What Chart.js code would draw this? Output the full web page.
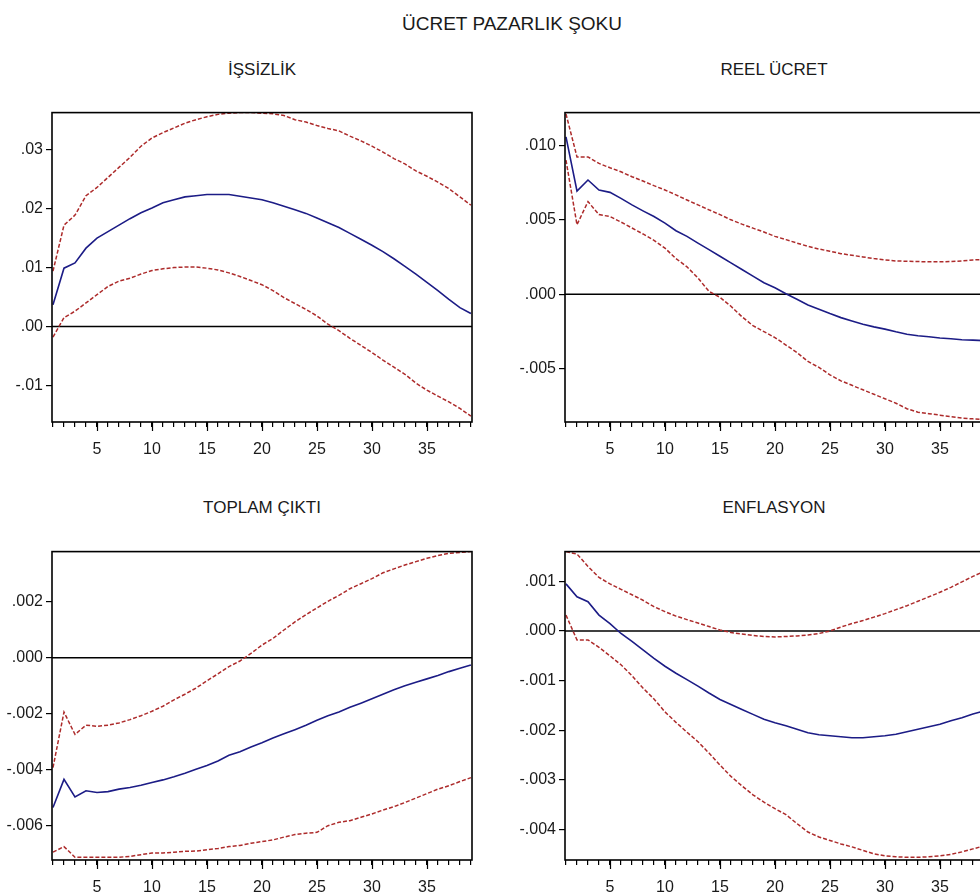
<!DOCTYPE html>
<html>
<head>
<meta charset="utf-8">
<script src="https://cdn.jsdelivr.net/npm/chart.js@4.4.1/dist/chart.umd.min.js"></script>
<style>
  html, body { margin:0; padding:0; background:#fff; overflow:hidden; width:980px; height:894px; }
  .ttl { position:absolute; text-align:center; font-family:"Liberation Sans", Arial, sans-serif; color:#1a1a1a; white-space:nowrap; line-height:20px; }
  .pane { position:absolute; }
</style>
</head>
<body>
<div class="ttl" style="left:362px; top:14px; width:300px; font-size:19px;">ÜCRET PAZARLIK ŞOKU</div>
<div class="ttl" style="left:112px; top:60px; width:300px; font-size:17px;">İŞSİZLİK</div>
<div class="ttl" style="left:624px; top:60px; width:300px; font-size:17px;">REEL ÜCRET</div>
<div class="ttl" style="left:112px; top:498px; width:300px; font-size:17px;">TOPLAM ÇIKTI</div>
<div class="ttl" style="left:624px; top:498px; width:300px; font-size:17px;">ENFLASYON</div>

<div class="pane" id="p1"><canvas id="c1"></canvas></div>
<div class="pane" id="p2"><canvas id="c2"></canvas></div>
<div class="pane" id="p3"><canvas id="c3"></canvas></div>
<div class="pane" id="p4"><canvas id="c4"></canvas></div>

<script>
// ---------- data ----------
const PERIODS = Array.from({length:39}, (_, i) => i + 1);
const X_LABELS = [5, 10, 15, 20, 25, 30, 35];

// İŞSİZLİK
const ISS_MEAN = [0.0037,0.0099,0.0108,0.0133,0.0150,0.0161,0.0172,0.0183,0.0193,0.0201,0.0210,0.0215,0.0220,0.0222,0.0224,0.0224,0.0224,0.0221,0.0218,0.0215,0.0210,0.0204,0.0198,0.0192,0.0184,0.0176,0.0168,0.0158,0.0148,0.0138,0.0127,0.0115,0.0102,0.0089,0.0075,0.0061,0.0046,0.0032,0.0022];
const ISS_UP   = [0.0094,0.0172,0.0189,0.0222,0.0236,0.0253,0.0270,0.0287,0.0306,0.0320,0.0329,0.0337,0.0345,0.0351,0.0356,0.0360,0.0362,0.0363,0.0363,0.0362,0.0361,0.0358,0.0351,0.0347,0.0341,0.0336,0.0332,0.0323,0.0315,0.0306,0.0296,0.0285,0.0276,0.0264,0.0255,0.0245,0.0234,0.0220,0.0206];
const ISS_LO   = [-0.0018,0.0015,0.0026,0.0040,0.0054,0.0068,0.0077,0.0082,0.0089,0.0095,0.0098,0.0100,0.0101,0.0101,0.0099,0.0096,0.0091,0.0085,0.0078,0.0071,0.0061,0.0049,0.0039,0.0029,0.0018,0.0004,-0.0007,-0.0020,-0.0032,-0.0044,-0.0057,-0.0069,-0.0081,-0.0096,-0.0108,-0.0118,-0.0128,-0.0139,-0.0152];
const ISS_TICKS  = [-0.01, 0, 0.01, 0.02, 0.03];
const ISS_LABELS = ['-.01', '.00', '.01', '.02', '.03'];

// REEL ÜCRET
const REEL_MEAN = [0.01056,0.00693,0.00767,0.0070,0.00684,0.00644,0.0060,0.0056,0.00522,0.00478,0.00427,0.00389,0.00344,0.0030,0.00256,0.00211,0.00167,0.00122,0.00078,0.00044,0.00004,-0.00033,-0.00071,-0.0010,-0.00129,-0.00156,-0.00178,-0.0020,-0.00218,-0.00233,-0.00251,-0.00267,-0.00278,-0.00284,-0.00293,-0.00298,-0.00304,-0.00307,-0.0031];
const REEL_UP   = [0.0121,0.00922,0.00922,0.00878,0.00849,0.00822,0.00789,0.0076,0.00729,0.0070,0.00667,0.00633,0.0060,0.00567,0.00535,0.0050,0.00471,0.00444,0.00418,0.00389,0.00367,0.00344,0.00322,0.00304,0.00289,0.00273,0.00262,0.00251,0.0024,0.00231,0.00224,0.00222,0.0022,0.00218,0.00218,0.0022,0.00224,0.00231,0.00233];
const REEL_LO   = [0.0090,0.00467,0.00622,0.00535,0.00522,0.00485,0.00445,0.00405,0.00362,0.0031,0.0024,0.00185,0.0011,0.0002,-0.0002,-0.0008,-0.0015,-0.0021,-0.0025,-0.0029,-0.0034,-0.0039,-0.0045,-0.0049,-0.0054,-0.0058,-0.0061,-0.0064,-0.0067,-0.0070,-0.0073,-0.00767,-0.0079,-0.0080,-0.0081,-0.0082,-0.0083,-0.00835,-0.0084];
const REEL_TICKS  = [-0.005, 0, 0.005, 0.010];
const REEL_LABELS = ['-.005', '.000', '.005', '.010'];

// TOPLAM ÇIKTI
const TOP_MEAN = [-0.00537,-0.00436,-0.00499,-0.00477,-0.00483,-0.0048,-0.00471,-0.00465,-0.00457,-0.00447,-0.00438,-0.00427,-0.00414,-0.0040,-0.00386,-0.0037,-0.0035,-0.00337,-0.0032,-0.00305,-0.00288,-0.00273,-0.00258,-0.00242,-0.00224,-0.00208,-0.00195,-0.00178,-0.00163,-0.00147,-0.00131,-0.00115,-0.00101,-0.00088,-0.00076,-0.00064,-0.0005,-0.00038,-0.00026];
const TOP_UP   = [-0.00394,-0.00195,-0.00275,-0.00242,-0.00246,-0.00242,-0.00234,-0.00222,-0.00208,-0.00192,-0.00174,-0.00151,-0.00131,-0.00109,-0.00083,-0.00058,-0.00032,-0.00012,0.00015,0.00045,0.00069,0.00099,0.00128,0.00154,0.00178,0.00202,0.00223,0.00247,0.00265,0.00283,0.00304,0.00318,0.00332,0.00344,0.00356,0.00366,0.00374,0.00377,0.0038];
const TOP_LO   = [-0.00697,-0.00677,-0.00715,-0.00715,-0.00715,-0.00715,-0.00715,-0.00712,-0.00706,-0.0070,-0.0070,-0.00697,-0.00694,-0.00693,-0.00688,-0.00684,-0.00677,-0.00673,-0.00665,-0.00659,-0.00653,-0.00643,-0.00634,-0.00629,-0.00626,-0.00602,-0.0059,-0.00584,-0.00572,-0.0056,-0.00546,-0.00534,-0.00519,-0.00503,-0.00487,-0.00471,-0.00459,-0.00444,-0.0043];
const TOP_TICKS  = [-0.006, -0.004, -0.002, 0, 0.002];
const TOP_LABELS = ['-.006', '-.004', '-.002', '.000', '.002'];

// ENFLASYON
const ENF_MEAN = [0.00095,0.00069,0.00059,0.00032,0.00015,-0.00005,-0.00021,-0.00038,-0.00055,-0.00071,-0.00085,-0.00098,-0.00111,-0.00125,-0.00138,-0.00148,-0.00158,-0.00168,-0.00178,-0.00185,-0.00191,-0.00198,-0.00205,-0.00209,-0.00211,-0.00213,-0.00215,-0.00215,-0.00213,-0.00211,-0.00208,-0.00203,-0.00198,-0.00193,-0.00188,-0.00181,-0.00175,-0.00167,-0.00161];
const ENF_UP   = [0.0016,0.00155,0.0013,0.00108,0.00095,0.00084,0.00073,0.00062,0.00049,0.00039,0.0003,0.00023,0.00016,0.00009,0.00002,-0.00003,-0.00006,-0.00009,-0.00011,-0.00012,-0.00011,-0.0001,-0.00008,-0.00005,0.0,0.00008,0.00015,0.00021,0.00028,0.00035,0.00043,0.00051,0.0006,0.00069,0.00078,0.00088,0.00099,0.0011,0.0012];
const ENF_LO   = [0.00032,-0.00018,-0.00018,-0.00033,-0.0005,-0.00068,-0.0009,-0.00115,-0.00137,-0.00163,-0.00184,-0.00204,-0.00223,-0.00246,-0.0027,-0.00293,-0.00312,-0.0033,-0.00345,-0.00358,-0.0037,-0.00388,-0.00405,-0.00415,-0.00422,-0.00429,-0.00435,-0.00442,-0.00449,-0.00453,-0.00455,-0.00456,-0.00456,-0.00455,-0.00453,-0.0045,-0.00445,-0.00439,-0.00433];
const ENF_TICKS  = [-0.004, -0.003, -0.002, -0.001, 0, 0.001];
const ENF_LABELS = ['-.004', '-.003', '-.002', '-.001', '.000', '.001'];

// ---------- drawing ----------
const FONT = '"Liberation Sans", Arial, sans-serif';
const BLUE = '#1c1c86';
const RED = '#ad2b2b';

const framePlugin = {
  id: 'frame',
  beforeDatasetsDraw(chart) {
    const {ctx, chartArea: a, scales: {y}} = chart;
    const zy = y.getPixelForValue(0);
    ctx.save();
    ctx.strokeStyle = '#000';
    ctx.lineWidth = 1.5;
    ctx.beginPath();
    ctx.moveTo(a.left, zy);
    ctx.lineTo(a.right, zy);
    ctx.stroke();
    ctx.restore();
  },
  afterDraw(chart) {
    const {ctx, chartArea: a, scales: {x}} = chart;
    ctx.save();
    ctx.strokeStyle = '#000';
    ctx.lineWidth = 1.6;
    ctx.strokeRect(a.left, a.top, a.right - a.left, a.bottom - a.top);
    ctx.lineWidth = 1.2;
    ctx.beginPath();
    X_LABELS.forEach(v => {
      const px = Math.round(x.getPixelForValue(v)) + 0.5;
      ctx.moveTo(px, a.bottom);
      ctx.lineTo(px, a.bottom + 9);
    });
    ctx.stroke();
    ctx.restore();
  }
};

function pts(arr) { return arr.map((v, i) => ({x: PERIODS[i], y: v})); }

function makePanel(canvasId, paneId, paneLeft, paneWidth, plotLeft, plotRight, plotTop, plotBottom,
                   mean, up, lo, yTicks, yLabels, yMin, yMax) {
  const padTop = 10, xAxisH = 42, padBottom = 8;
  const pane = document.getElementById(paneId);
  const h = (plotBottom - plotTop) + padTop + xAxisH + padBottom;
  pane.style.left = paneLeft + 'px';
  pane.style.top = (plotTop - padTop) + 'px';
  pane.style.width = paneWidth + 'px';
  pane.style.height = h + 'px';
  const cv = document.getElementById(canvasId);
  cv.width = paneWidth; cv.height = h;
  cv.style.width = paneWidth + 'px'; cv.style.height = h + 'px';

  new Chart(cv, {
    type: 'line',
    data: {
      datasets: [
        {data: pts(up), borderColor: RED, borderWidth: 1.5, borderDash: [4, 2]},
        {data: pts(lo), borderColor: RED, borderWidth: 1.5, borderDash: [4, 2]},
        {data: pts(mean), borderColor: BLUE, borderWidth: 1.6}
      ]
    },
    options: {
      responsive: false,
      animation: false,
      devicePixelRatio: 1,
      layout: {padding: {top: padTop, bottom: padBottom, left: 0, right: paneWidth - (plotRight - paneLeft)}},
      elements: {point: {radius: 0}, line: {tension: 0}},
      plugins: {legend: {display: false}, tooltip: {enabled: false}, title: {display: false}},
      scales: {
        x: {
          type: 'linear',
          min: 0.91, max: 39.1,
          afterBuildTicks: s => { s.ticks = PERIODS.map(v => ({value: v})); },
          afterFit: s => { s.height = xAxisH; },
          ticks: {
            autoSkip: false, maxRotation: 0, padding: 13,
            color: '#1a1a1a', font: {family: FONT, size: 16},
            callback: v => X_LABELS.includes(v) ? String(v) : ''
          },
          grid: {drawOnChartArea: false, drawTicks: true, tickLength: 5, color: '#000', lineWidth: 1.2},
          border: {display: false}
        },
        y: {
          type: 'linear',
          min: yMin, max: yMax,
          afterBuildTicks: s => { s.ticks = yTicks.map(v => ({value: v})); },
          afterFit: s => { s.width = plotLeft - paneLeft; },
          ticks: {
            padding: 3, color: '#1a1a1a', font: {family: FONT, size: 16},
            callback: (v, i) => yLabels[i]
          },
          grid: {drawOnChartArea: false, drawTicks: true, tickLength: 6, color: '#000', lineWidth: 1.2},
          border: {display: false}
        }
      }
    },
    plugins: [framePlugin]
  });
}

makePanel('c1', 'p1', 0, 490, 52, 472, 110, 422, ISS_MEAN, ISS_UP, ISS_LO, ISS_TICKS, ISS_LABELS, -0.0162, 0.0363);
makePanel('c2', 'p2', 490, 510, 565, 985, 110, 422, REEL_MEAN, REEL_UP, REEL_LO, REEL_TICKS, REEL_LABELS, -0.00856, 0.01219);
makePanel('c3', 'p3', 0, 490, 52, 472, 549, 860, TOP_MEAN, TOP_UP, TOP_LO, TOP_TICKS, TOP_LABELS, -0.00725, 0.0038);
makePanel('c4', 'p4', 490, 510, 565, 985, 549, 860, ENF_MEAN, ENF_UP, ENF_LO, ENF_TICKS, ENF_LABELS, -0.004614, 0.0016);
</script>
</body>
</html>
